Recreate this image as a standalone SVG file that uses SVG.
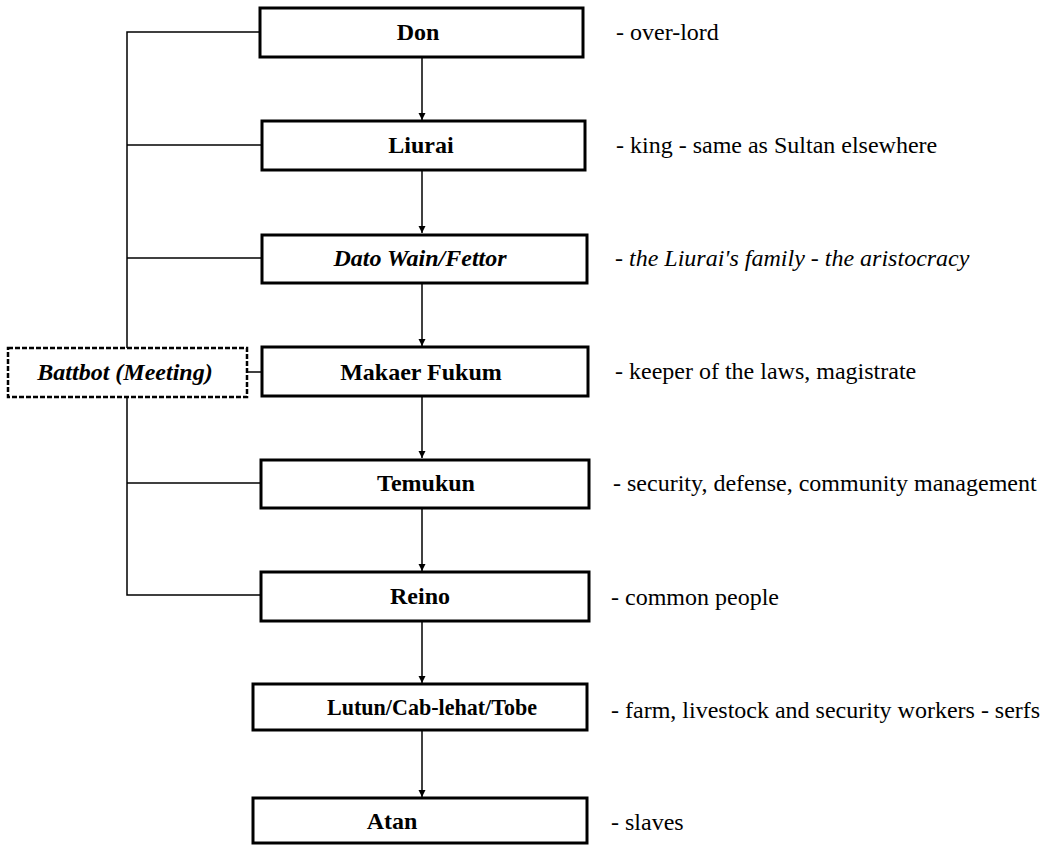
<svg xmlns="http://www.w3.org/2000/svg" width="1053" height="845" viewBox="0 0 1053 845">
<style>
.box{fill:#fff;stroke:#000;stroke-width:3}
.dbox{fill:#fff;stroke:#000;stroke-width:2.5;stroke-dasharray:5 2}
.lbl{font-family:'Liberation Serif','DejaVu Serif',serif;font-weight:bold;font-size:24px;fill:#000;text-anchor:middle}
.it{font-style:italic}
.desc{font-family:'Liberation Serif','DejaVu Serif',serif;font-size:24px;fill:#000}
.ln{stroke:#000;stroke-width:1.5;fill:none}
</style>
<defs>
<marker id="ah" markerWidth="8" markerHeight="8" refX="7" refY="4" orient="auto" markerUnits="userSpaceOnUse">
<path d="M0,0.5 L7,4 L0,7.5 Z" fill="#000"/>
</marker>
</defs>
<rect width="1053" height="845" fill="#fff"/>
<g id="connectors">
<polyline class="ln" points="260,32 127,32 127,348"/>
<line class="ln" x1="127" y1="145" x2="262" y2="145"/>
<line class="ln" x1="127" y1="258" x2="262" y2="258"/>
<polyline class="ln" points="127,397 127,595 261,595"/>
<line class="ln" x1="127" y1="483" x2="261" y2="483"/>
<line class="ln" x1="247" y1="372" x2="261" y2="372"/>
<line class="ln" x1="422" y1="57" x2="422" y2="120" marker-end="url(#ah)"/>
<line class="ln" x1="422" y1="170" x2="422" y2="233" marker-end="url(#ah)"/>
<line class="ln" x1="422" y1="283" x2="422" y2="346" marker-end="url(#ah)"/>
<line class="ln" x1="422" y1="396" x2="422" y2="458" marker-end="url(#ah)"/>
<line class="ln" x1="422" y1="508" x2="422" y2="571" marker-end="url(#ah)"/>
<line class="ln" x1="422" y1="621" x2="422" y2="683" marker-end="url(#ah)"/>
<line class="ln" x1="422" y1="730" x2="422" y2="797" marker-end="url(#ah)"/>
</g>
<g id="node-battbot">
<rect class="dbox" x="8" y="348" width="239" height="49"/>
<text class="lbl it" x="125" y="380">Battbot (Meeting)</text>
</g>
<g id="node-don">
<rect class="box" x="260" y="8" width="323" height="49"/>
<text class="lbl" x="418" y="40">Don</text>
<text class="desc" x="616" y="40">- over-lord</text>
</g>
<g id="node-liurai">
<rect class="box" x="262" y="121" width="323" height="49"/>
<text class="lbl" x="421" y="153">Liurai</text>
<text class="desc" x="616" y="153">- king -  same as Sultan elsewhere</text>
</g>
<g id="node-dato">
<rect class="box" x="262" y="235" width="325" height="48"/>
<text class="lbl it" x="420" y="266">Dato Wain/Fettor</text>
<text class="desc it" x="615" y="266">- the Liurai's family - the aristocracy</text>
</g>
<g id="node-makaer">
<rect class="box" x="262" y="347" width="326" height="49"/>
<text class="lbl" x="421" y="380">Makaer Fukum</text>
<text class="desc" x="615" y="379">- keeper of the laws, magistrate</text>
</g>
<g id="node-temukun">
<rect class="box" x="261" y="460" width="328" height="48"/>
<text class="lbl" x="426" y="491">Temukun</text>
<text class="desc" x="613" y="491">- security, defense, community management</text>
</g>
<g id="node-reino">
<rect class="box" x="261" y="572" width="328" height="49"/>
<text class="lbl" x="420" y="604">Reino</text>
<text class="desc" x="611" y="605">- common people</text>
</g>
<g id="node-lutun">
<rect class="box" x="253" y="684" width="334" height="46"/>
<text class="lbl" x="432" y="715" textLength="210" lengthAdjust="spacingAndGlyphs">Lutun/Cab-lehat/Tobe</text>
<text class="desc" x="611" y="718">- farm, livestock and security workers - serfs</text>
</g>
<g id="node-atan">
<rect class="box" x="253" y="798" width="334" height="45"/>
<text class="lbl" x="392" y="829">Atan</text>
<text class="desc" x="611" y="830">- slaves</text>
</g>
</svg>
